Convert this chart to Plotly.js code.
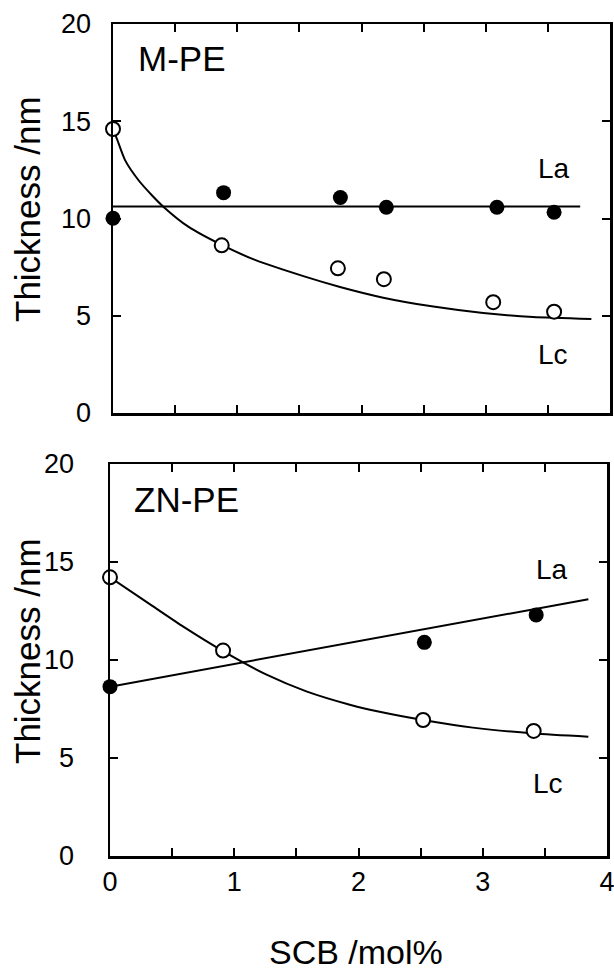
<!DOCTYPE html>
<html>
<head>
<meta charset="utf-8">
<script src="https://cdn.plot.ly/plotly-3.0.1.min.js"></script>
<style>html,body{margin:0;padding:0;background:#fff;}#chart{width:614px;height:973px;}</style>
</head>
<body>
<div id="chart"></div>
<script>
// ---- Top panel: M-PE ----
const mpeLcX = [0, 0.875, 1.81, 2.18, 3.06, 3.55];
const mpeLcY = [14.6, 8.62, 7.44, 6.88, 5.70, 5.21];
const mpeLaX = [0, 0.89, 1.83, 2.20, 3.09, 3.55];
const mpeLaY = [10.01, 11.33, 11.08, 10.58, 10.58, 10.32];
const mpeLaFitX = [0, 3.76];
const mpeLaFitY = [10.62, 10.62];
const mpeLcFitX = [0, 0.03, 0.097, 0.204, 0.311, 0.405, 0.606, 0.875, 1.143, 1.545, 1.827, 2.175, 2.578, 2.98, 3.38, 3.85];
const mpeLcFitY = [14.6, 14.12, 13.0, 11.98, 11.21, 10.61, 9.58, 8.64, 7.87, 7.01, 6.48, 5.93, 5.47, 5.14, 4.93, 4.83];

// ---- Bottom panel: ZN-PE ----
const znLcX = [0, 0.91, 2.52, 3.41];
const znLcY = [14.22, 10.48, 6.94, 6.38];
const znLaX = [0, 2.53, 3.43];
const znLaY = [8.64, 10.90, 12.30];
const znLaFitX = [0, 3.85];
const znLaFitY = [8.64, 13.10];
const znLcFitX = [0, 0.32, 0.59, 0.91, 1.26, 1.58, 1.93, 2.17, 2.52, 2.92, 3.41, 3.85];
const znLcFitY = [14.22, 12.85, 11.70, 10.45, 9.25, 8.40, 7.72, 7.36, 6.94, 6.55, 6.25, 6.09];

const xTickVals = [0, 1, 2, 3, 4];
const xTickText = ['0', '1', '2', '3', '4'];
const yTickVals = [0, 5, 10, 15, 20];
const yTickText = ['0', '5', '10', '15', '20'];

const FONT = 'Liberation Sans, Arial, Helvetica, sans-serif';
const W = 614, H = 973;
const px = v => v / W;
const py = v => 1 - v / H;

function fit(x, y, xa, ya) {
  return {x: x, y: y, xaxis: xa, yaxis: ya, type: 'scatter', mode: 'lines',
    line: {color: '#000', width: 2, shape: 'spline', smoothing: 0.6}, hoverinfo: 'skip'};
}
function pts(x, y, xa, ya, filled) {
  return {x: x, y: y, xaxis: xa, yaxis: ya, type: 'scatter', mode: 'markers', cliponaxis: false,
    marker: filled ? {symbol: 'circle', size: 15, color: '#000', line: {width: 0}}
                   : {symbol: 'circle', size: 14, color: '#fff', line: {color: '#000', width: 2}}};
}

const data = [
  fit(mpeLaFitX, mpeLaFitY, 'x2', 'y2'),
  fit(mpeLcFitX, mpeLcFitY, 'x2', 'y2'),
  pts(mpeLaX, mpeLaY, 'x2', 'y2', true),
  pts(mpeLcX, mpeLcY, 'x2', 'y2', false),
  fit(znLaFitX, znLaFitY, 'x', 'y'),
  fit(znLcFitX, znLcFitY, 'x', 'y'),
  pts(znLaX, znLaY, 'x', 'y', true),
  pts(znLcX, znLcY, 'x', 'y', false)
];

const axisCommon = {
  showline: true, linecolor: '#000', linewidth: 2.5, mirror: 'ticks',
  ticks: 'inside', ticklen: 8, tickwidth: 2, tickcolor: '#000',
  showgrid: false, zeroline: false, fixedrange: true,
  ticklabeloverflow: 'allow',
  tickfont: {family: FONT, size: 27, color: '#000'}
};

const layout = {
  width: W, height: H,
  margin: {l: 0, r: 0, t: 0, b: 0, pad: 0},
  paper_bgcolor: '#fff', plot_bgcolor: '#fff',
  showlegend: false,
  font: {family: FONT, color: '#000'},
  xaxis: Object.assign({}, axisCommon, {
    domain: [px(110), px(607)], anchor: 'y', range: [0, 4],
    tickmode: 'array', tickvals: xTickVals, ticktext: xTickText,
    minor: {dtick: 0.5, tick0: 0, ticks: 'inside', ticklen: 8, tickwidth: 2, tickcolor: '#000'},
    ticklabelstandoff: 0
  }),
  yaxis: Object.assign({}, axisCommon, {
    domain: [py(856), py(464)], anchor: 'x', range: [0, 20],
    tickmode: 'array', tickvals: yTickVals, ticktext: yTickText,
    ticklabelstandoff: 28
  }),
  xaxis2: Object.assign({}, axisCommon, {
    domain: [px(113), px(610)], anchor: 'y2', range: [0, 4],
    tickmode: 'array', tickvals: xTickVals, ticktext: xTickText, showticklabels: false,
    minor: {dtick: 0.5, tick0: 0, ticks: 'inside', ticklen: 8, tickwidth: 2, tickcolor: '#000'}
  }),
  yaxis2: Object.assign({}, axisCommon, {
    domain: [py(413), py(24)], anchor: 'x2', range: [0, 20],
    tickmode: 'array', tickvals: yTickVals, ticktext: yTickText,
    ticklabelstandoff: 14
  }),
  annotations: [
    {text: 'M-PE', x: px(136), y: py(58.5), xanchor: 'left', yanchor: 'middle', xref: 'paper', yref: 'paper', showarrow: false, font: {family: FONT, size: 35, color: '#000'}},
    {text: 'ZN-PE', x: px(132), y: py(499.5), xanchor: 'left', yanchor: 'middle', xref: 'paper', yref: 'paper', showarrow: false, font: {family: FONT, size: 35, color: '#000'}},
    {text: 'La', x: px(554), y: py(169), xanchor: 'center', yanchor: 'middle', xref: 'paper', yref: 'paper', showarrow: false, font: {family: FONT, size: 28, color: '#000'}},
    {text: 'Lc', x: px(553), y: py(354), xanchor: 'center', yanchor: 'middle', xref: 'paper', yref: 'paper', showarrow: false, font: {family: FONT, size: 28, color: '#000'}},
    {text: 'La', x: px(552), y: py(569), xanchor: 'center', yanchor: 'middle', xref: 'paper', yref: 'paper', showarrow: false, font: {family: FONT, size: 28, color: '#000'}},
    {text: 'Lc', x: px(548), y: py(783), xanchor: 'center', yanchor: 'middle', xref: 'paper', yref: 'paper', showarrow: false, font: {family: FONT, size: 28, color: '#000'}},
    {text: 'Thickness /nm', x: px(28), y: py(209), textangle: -90, xanchor: 'center', yanchor: 'middle', xref: 'paper', yref: 'paper', showarrow: false, font: {family: FONT, size: 35, color: '#000'}},
    {text: 'Thickness /nm', x: px(27), y: py(651), textangle: -90, xanchor: 'center', yanchor: 'middle', xref: 'paper', yref: 'paper', showarrow: false, font: {family: FONT, size: 35, color: '#000'}},
    {text: 'SCB /mol%', x: px(356), y: py(952), xanchor: 'center', yanchor: 'middle', xref: 'paper', yref: 'paper', showarrow: false, font: {family: FONT, size: 34, color: '#000'}}
  ]
};

Plotly.newPlot('chart', data, layout, {staticPlot: true, displayModeBar: false});
</script>
</body>
</html>
